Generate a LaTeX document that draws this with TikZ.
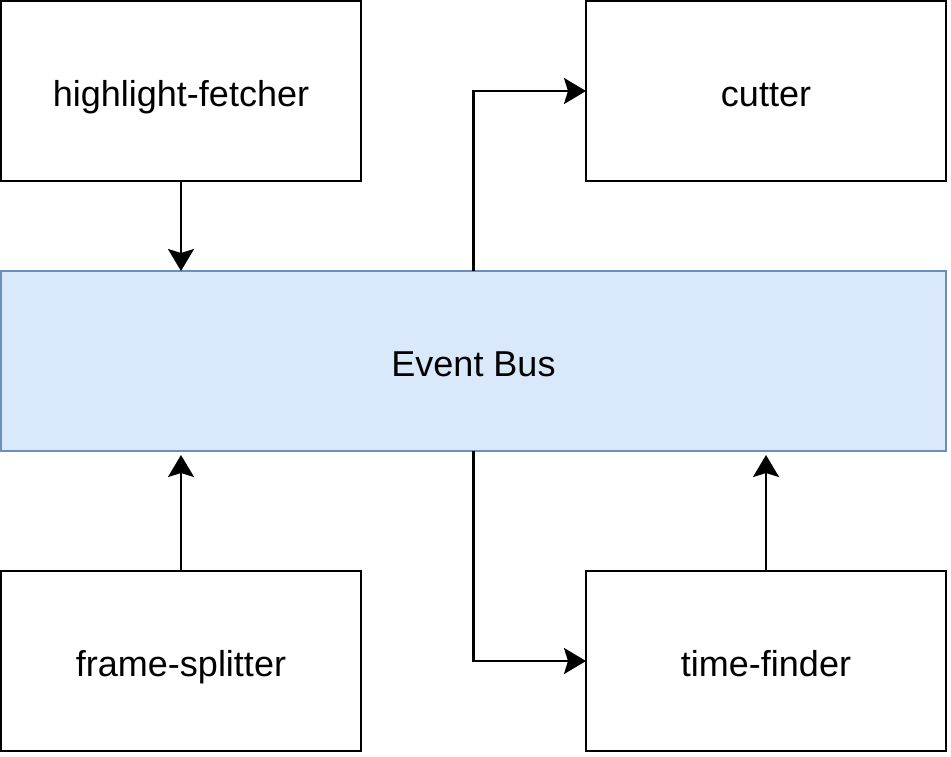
\documentclass[tikz,border=0pt]{standalone}
\usepackage{fontspec}
\setmainfont{Liberation Sans}
\usetikzlibrary{arrows.meta, positioning}
\definecolor{BusFill}{RGB}{218, 232, 252}
\definecolor{BusLine}{RGB}{108, 142, 191}

\begin{document}
\begin{tikzpicture}[x=0.5pt, y=-0.5pt,
    svc/.style={draw=black, line width=1.2pt, fill=white, minimum width=180pt,
                minimum height=90pt, inner sep=0pt, outer sep=0pt,
                text height=15pt, text depth=0pt,
                font=\fontsize{18}{22}\selectfont},
    busbox/.style={svc, draw=BusLine, fill=BusFill, minimum width=472.5pt},
    flow/.style={line width=1.2pt, -{Stealth[length=11pt, width=13pt, inset=2pt]}}]
    \useasboundingbox (0,0) rectangle (951,756);

    % Services
    \node[svc] (hfetch) at (181,91) {highlight-fetcher};
    \node[svc] (cutter) at (766,91) {cutter};
    \node[busbox] (bus) at (473.5,361) {Event Bus};
    \node[svc] (fsplit) at (181,661) {frame-splitter};
    \node[svc] (tfinder) at (766,661) {time-finder};

    % Connections through the bus
    \draw[flow] (hfetch.south) -- (hfetch.south |- bus.north);
    \draw[flow] (bus.north) |- (cutter.west);
    \draw[flow, shorten >=2pt] (fsplit.north) -- (fsplit.north |- bus.south);
    \draw[flow] (bus.south) |- (tfinder.west);
    \draw[flow, shorten >=2pt] (tfinder.north) -- (tfinder.north |- bus.south);
\end{tikzpicture}
\end{document}
